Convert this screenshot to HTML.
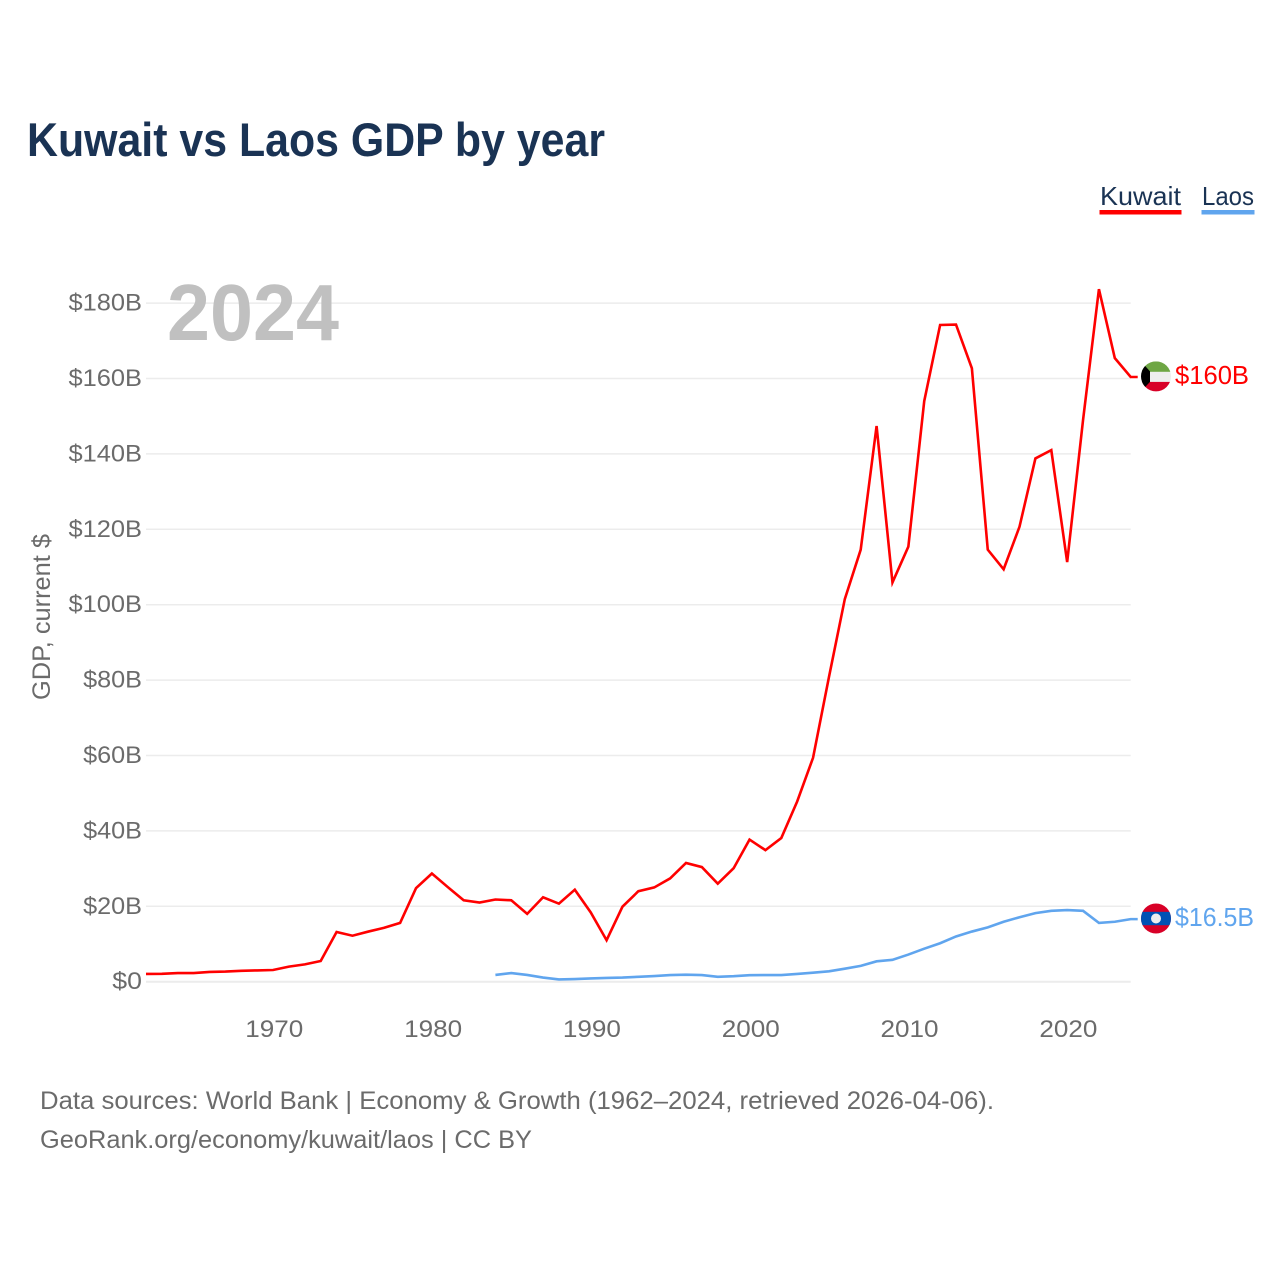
<!DOCTYPE html>
<html lang="en">
<head>
<meta charset="utf-8">
<title>Kuwait vs Laos GDP by year</title>
<style>
html,body{margin:0;padding:0;background:#fff;width:1280px;height:1280px;overflow:hidden}
svg{display:block;font-family:"Liberation Sans",sans-serif}
</style>
</head>
<body>
<svg id="chart" xmlns="http://www.w3.org/2000/svg" width="1280" height="1280" viewBox="0 0 1280 1280">
  <defs>
    <clipPath id="flag-clip"><circle cx="0" cy="0" r="15"></circle></clipPath>
  </defs>
  <rect x="0" y="0" width="1280" height="1280" fill="#ffffff"></rect>
  <text x="27" y="156" font-size="47" font-weight="700" fill="#1a3354" textLength="578" lengthAdjust="spacingAndGlyphs">Kuwait vs Laos GDP by year</text>

  <text x="1100" y="205" font-size="26" fill="#1a3354" textLength="81" lengthAdjust="spacingAndGlyphs">Kuwait</text>
  <rect x="1099.5" y="210" width="82" height="4.5" fill="#ff0000"></rect>
  <text x="1202" y="205" font-size="26" fill="#1a3354" textLength="52" lengthAdjust="spacingAndGlyphs">Laos</text>
  <rect x="1201.5" y="210" width="53" height="4.5" fill="#60a5ee"></rect>

  <g id="grid"></g>
  <g id="y-ticks"></g>
  <g id="x-ticks"></g>

  <text transform="translate(50,700) rotate(-90)" x="0" y="0" font-size="25" fill="#6b6b6b" textLength="166" lengthAdjust="spacingAndGlyphs">GDP, current $</text>
  <text x="167" y="340" font-size="80" font-weight="700" fill="#c0c0c0" textLength="172" lengthAdjust="spacingAndGlyphs">2024</text>

  <g id="series"></g>

  <g id="flag-kuwait">
    <g clip-path="url(#flag-clip)">
      <rect x="-15" y="-15" width="30" height="10.5" fill="#6ea644"></rect>
      <rect x="-15" y="-4.5" width="30" height="10" fill="#eeeeee"></rect>
      <rect x="-15" y="5.5" width="30" height="10" fill="#d80027"></rect>
      <polygon points="-15,-15 -6,-5 -6,5.5 -15,15" fill="#000000"></polygon>
    </g>
  </g>
  <g id="flag-laos">
    <g clip-path="url(#flag-clip)">
      <rect x="-15" y="-15" width="30" height="30" fill="#d80027"></rect>
      <rect x="-15" y="-6.7" width="30" height="13.4" fill="#0052b4"></rect>
      <circle cx="0" cy="0" r="5" fill="#eeeeee"></circle>
    </g>
  </g>
  <text id="label-kuwait" x="1175" font-size="26" fill="#ff0000" textLength="74" lengthAdjust="spacingAndGlyphs"></text>
  <text id="label-laos" x="1175" font-size="26" fill="#60a5ee" textLength="79" lengthAdjust="spacingAndGlyphs"></text>

  <text x="40" y="1109" font-size="25" fill="#6b6b6b" textLength="954" lengthAdjust="spacingAndGlyphs">Data sources: World Bank | Economy &amp; Growth (1962–2024, retrieved 2026-04-06).</text>
  <text x="40" y="1148" font-size="25" fill="#6b6b6b" textLength="492" lengthAdjust="spacingAndGlyphs">GeoRank.org/economy/kuwait/laos | CC BY</text>
</svg>
<script>
const yTickValues = [0, 20, 40, 60, 80, 100, 120, 140, 160, 180];
const yTickLabels = ["$0", "$20B", "$40B", "$60B", "$80B", "$100B", "$120B", "$140B", "$160B", "$180B"];
const xTickYears = [1970, 1980, 1990, 2000, 2010, 2020];
const kuwaitStartYear = 1962;
const kuwaitGdp = [2.05, 2.1, 2.3, 2.3, 2.6, 2.7, 2.9, 3.0, 3.1, 4.0, 4.6, 5.5, 13.2, 12.2, 13.3, 14.3, 15.6, 24.8, 28.7, 25.1, 21.6, 21.0, 21.8, 21.6, 18.0, 22.4, 20.7, 24.4, 18.4, 11.0, 19.9, 24.0, 25.0, 27.4, 31.5, 30.4, 26.0, 30.1, 37.7, 34.9, 38.1, 47.8, 59.4, 80.8, 101.5, 114.6, 147.4, 105.9, 115.4, 154.0, 174.2, 174.3, 162.7, 114.6, 109.4, 120.7, 138.8, 141.0, 111.3, 149.0, 183.7, 165.4, 160.4];
const laosStartYear = 1984;
const laosGdp = [1.8, 2.3, 1.8, 1.1, 0.6, 0.7, 0.87, 1.0, 1.1, 1.3, 1.5, 1.75, 1.85, 1.75, 1.3, 1.45, 1.73, 1.77, 1.76, 2.05, 2.4, 2.75, 3.45, 4.2, 5.4, 5.8, 7.2, 8.75, 10.2, 12.0, 13.3, 14.4, 15.9, 17.1, 18.2, 18.8, 19.0, 18.8, 15.6, 15.9, 16.6];
const kuwaitEndLabel = "$160B";
const laosEndLabel = "$16.5B";

const SVG_NS = "http://www.w3.org/2000/svg";
const plotLeft = 146, plotRight = 1130.7;
const firstYear = 1962, lastYear = 2024;
const yZero = 981.7, pxPerBillion = 3.77;
const labelCharWidth = 14.6;

function xScale(year) {
  return plotLeft + (year - firstYear) * (plotRight - plotLeft) / (lastYear - firstYear);
}
function yScale(value) {
  return yZero - value * pxPerBillion;
}
function makeEl(tag, parent) {
  const el = document.createElementNS(SVG_NS, tag);
  parent.appendChild(el);
  return el;
}

const gridGroup = document.getElementById("grid");
const yTickGroup = document.getElementById("y-ticks");
const xTickGroup = document.getElementById("x-ticks");
const seriesGroup = document.getElementById("series");

yTickValues.forEach(function (value, i) {
  const line = makeEl("line", gridGroup);
  
  
  line.setAttribute("x1", plotLeft);
  line.setAttribute("x2", plotRight);
  line.setAttribute("y1", yScale(value));
  line.setAttribute("y2", yScale(value));
  line.setAttribute("stroke", "#ececec");
  line.setAttribute("stroke-width", value === 0 ? 2 : 1.5);

  const label = makeEl("text", yTickGroup);
  
  
  label.setAttribute("x", 142);
  label.setAttribute("y", yScale(value) + 7.5);
  label.setAttribute("text-anchor", "end");
  label.setAttribute("font-size", 24.5);
  label.setAttribute("fill", "#6b6b6b");
  label.setAttribute("textLength", yTickLabels[i].length * labelCharWidth + 0.5);
  label.setAttribute("lengthAdjust", "spacingAndGlyphs");
  label.textContent = yTickLabels[i];
});

xTickYears.forEach(function (year) {
  const label = makeEl("text", xTickGroup);
  
  
  label.setAttribute("x", xScale(year) + 1.2);
  label.setAttribute("y", 1037);
  label.setAttribute("text-anchor", "middle");
  label.setAttribute("font-size", 24.5);
  label.setAttribute("fill", "#6b6b6b");
  label.setAttribute("textLength", 58);
  label.setAttribute("lengthAdjust", "spacingAndGlyphs");
  label.textContent = String(year);
});

function linePoints(startYear, values) {
  const pts = values.map(function (value, i) {
    return xScale(startYear + i).toFixed(2) + "," + yScale(value).toFixed(2);
  });
  pts.push((xScale(lastYear) + 7) + "," + yScale(values[values.length - 1]).toFixed(2));
  return pts.join(" ");
}

const kuwaitLine = makeEl("polyline", seriesGroup);


kuwaitLine.setAttribute("points", linePoints(kuwaitStartYear, kuwaitGdp));
kuwaitLine.setAttribute("fill", "none");
kuwaitLine.setAttribute("stroke", "#ff0000");
kuwaitLine.setAttribute("stroke-width", 2.6);
kuwaitLine.setAttribute("stroke-linejoin", "miter");

const laosLine = makeEl("polyline", seriesGroup);


laosLine.setAttribute("points", linePoints(laosStartYear, laosGdp));
laosLine.setAttribute("fill", "none");
laosLine.setAttribute("stroke", "#60a5ee");
laosLine.setAttribute("stroke-width", 2.6);

const kuwaitEnd = yScale(kuwaitGdp[kuwaitGdp.length - 1]);
const laosEnd = yScale(laosGdp[laosGdp.length - 1]);
document.getElementById("flag-kuwait").setAttribute("transform", "translate(1156," + (kuwaitEnd - 0.6) + ")");
document.getElementById("flag-laos").setAttribute("transform", "translate(1156," + (laosEnd - 0.6) + ")");
const kuwaitLabelEl = document.getElementById("label-kuwait");
kuwaitLabelEl.setAttribute("y", kuwaitEnd + 7);
kuwaitLabelEl.textContent = kuwaitEndLabel;
const laosLabelEl = document.getElementById("label-laos");
laosLabelEl.setAttribute("y", laosEnd + 7);
laosLabelEl.textContent = laosEndLabel;
</script>
</body>
</html>
